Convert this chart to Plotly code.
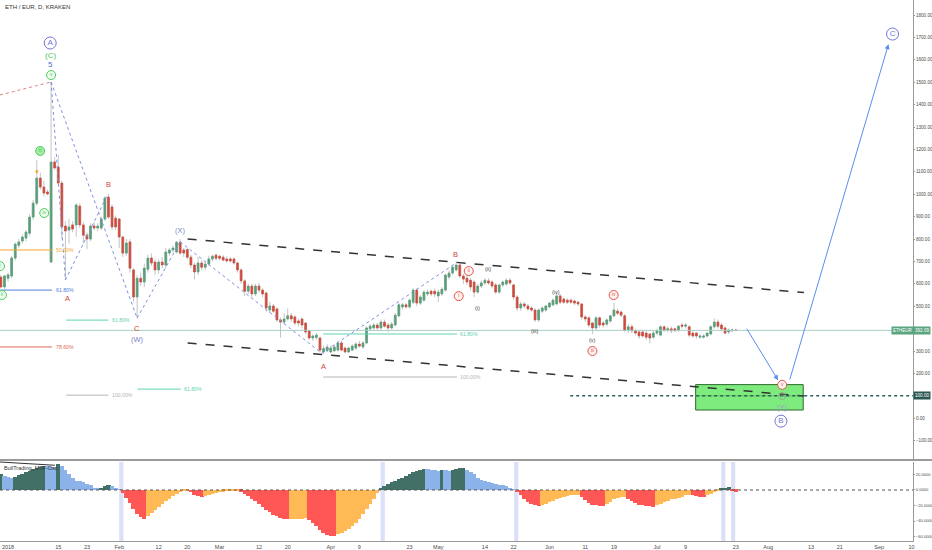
import plotly.graph_objects as go
import pandas as pd

FONT = "Arial, Liberation Sans, sans-serif"
AXFONT = "Liberation Sans Narrow, Arial Narrow, Liberation Sans, Arial, sans-serif"

# ---------------- data ----------------
dates = pd.date_range("2017-12-30", periods=206, freq="D")

opens = [630, 586, 625, 635, 715, 772, 791, 804, 826, 898, 960, 1072, 1032, 1010, 697, 1144, 1121, 1050, 858, 840,
         863, 863, 947, 863, 817, 800, 858, 849, 849, 889, 987, 943, 893, 889, 809, 737, 787, 662, 541, 625,
         608, 665, 715, 697, 662, 697, 684, 737, 751, 742, 786, 751, 753, 719, 684, 653, 693, 674, 688, 711,
         728, 723, 719, 711, 711, 711, 693, 662, 613, 567, 590, 555, 590, 572, 559, 483, 501, 488, 439, 429,
         443, 457, 452, 434, 443, 425, 390, 358, 360, 358, 296, 301, 296, 301, 304, 336, 313, 296, 304, 313,
         331, 318, 336, 399, 403, 416, 403, 429, 416, 403, 416, 457, 497, 506, 497, 518, 572, 514, 527, 555,
         567, 567, 546, 555, 572, 630, 648, 662, 684, 635, 625, 616, 608, 563, 590, 604, 613, 608, 595, 563,
         595, 599, 616, 595, 541, 492, 510, 501, 492, 483, 439, 478, 483, 497, 506, 510, 546, 532, 527, 527,
         523, 518, 510, 452, 448, 425, 403, 448, 425, 420, 434, 457, 478, 474, 457, 394, 408, 390, 385, 385,
         380, 376, 362, 380, 371, 408, 394, 399, 399, 394, 416, 411, 408, 380, 380, 362, 362, 367, 376, 408,
         429, 416, 403, 385, 390, 394]
highs = [640, 640, 650, 725, 785, 800, 820, 840, 910, 975, 1152, 1096, 1060, 1020, 1501, 1165, 1175, 1060, 880, 890,
         880, 960, 960, 875, 830, 870, 875, 870, 900, 990, 1003, 955, 905, 895, 815, 800, 800, 670, 640, 650,
         690, 730, 735, 710, 710, 720, 760, 760, 770, 790, 800, 760, 760, 730, 695, 720, 705, 700, 725, 730,
         735, 730, 728, 722, 720, 718, 700, 670, 620, 600, 600, 600, 605, 580, 565, 520, 510, 495, 450, 470,
         490, 470, 460, 445, 450, 430, 395, 375, 380, 365, 325, 330, 325, 330, 345, 345, 320, 320, 330, 340,
         345, 345, 410, 420, 425, 425, 440, 440, 425, 430, 470, 515, 515, 515, 535, 580, 580, 550, 570, 575,
         575, 580, 575, 585, 645, 660, 685, 700, 695, 645, 640, 625, 615, 600, 615, 625, 625, 615, 605, 600,
         615, 625, 625, 600, 550, 520, 520, 510, 500, 490, 490, 500, 505, 520, 535, 560, 555, 540, 535, 535,
         530, 525, 515, 460, 455, 430, 455, 455, 435, 445, 460, 515, 490, 480, 465, 420, 420, 400, 395, 395,
         390, 380, 390, 400, 415, 415, 410, 410, 405, 415, 425, 425, 415, 390, 385, 375, 375, 385, 415, 445,
         440, 425, 410, 400, 400, 398]
lows = [580, 575, 610, 625, 705, 760, 780, 790, 815, 885, 950, 1020, 990, 995, 697, 1110, 1040, 800, 617, 780,
        830, 810, 850, 780, 755, 790, 840, 835, 840, 880, 890, 840, 840, 760, 720, 725, 650, 520, 447, 590,
        585, 650, 680, 640, 645, 670, 670, 725, 740, 735, 730, 720, 710, 670, 620, 640, 660, 660, 680, 700,
        705, 705, 700, 695, 695, 685, 650, 600, 545, 555, 540, 545, 560, 540, 475, 470, 470, 430, 360, 420,
        435, 430, 415, 410, 400, 375, 350, 345, 350, 295, 288, 295, 290, 295, 298, 300, 290, 290, 300, 305,
        315, 310, 330, 390, 395, 395, 395, 405, 385, 395, 410, 450, 485, 490, 490, 510, 500, 505, 520, 545,
        545, 540, 520, 545, 565, 620, 640, 655, 625, 600, 595, 570, 540, 555, 580, 595, 595, 580, 555, 555,
        585, 590, 595, 530, 480, 480, 490, 480, 475, 430, 430, 470, 475, 490, 500, 505, 510, 510, 510, 510,
        505, 500, 440, 430, 405, 375, 395, 405, 405, 410, 425, 450, 460, 450, 385, 380, 380, 370, 355, 360,
        350, 335, 355, 370, 365, 385, 385, 380, 385, 385, 400, 400, 360, 360, 355, 355, 355, 360, 370, 400,
        400, 390, 375, 375, 385, 388]
closes = [586, 635, 640, 715, 777, 787, 809, 831, 898, 960, 1072, 1032, 1005, 1001, 1144, 1117, 1050, 854, 836, 854,
          845, 952, 863, 817, 800, 858, 849, 858, 889, 983, 898, 854, 854, 809, 737, 782, 670, 541, 625, 608,
          670, 715, 693, 662, 697, 684, 742, 751, 760, 786, 737, 737, 719, 684, 653, 693, 674, 688, 711, 723,
          714, 714, 706, 702, 702, 693, 662, 613, 567, 590, 555, 590, 572, 555, 492, 501, 478, 439, 429, 443,
          457, 443, 425, 425, 416, 385, 358, 367, 371, 304, 311, 318, 313, 318, 336, 304, 296, 313, 322, 331,
          322, 336, 403, 411, 416, 403, 429, 411, 403, 420, 460, 506, 506, 497, 527, 572, 514, 541, 563, 563,
          555, 555, 563, 576, 639, 648, 674, 684, 635, 621, 608, 586, 563, 590, 604, 616, 604, 590, 563, 595,
          608, 616, 604, 541, 492, 510, 501, 488, 483, 439, 483, 492, 501, 514, 527, 546, 518, 518, 518, 518,
          514, 510, 452, 443, 416, 403, 448, 416, 416, 439, 457, 483, 469, 460, 394, 408, 390, 380, 367, 367,
          362, 358, 380, 390, 408, 394, 399, 390, 390, 411, 411, 416, 371, 367, 367, 367, 367, 380, 408, 429,
          411, 399, 380, 394, 394, 392.09]

osc = [20, 18, 17, 16, 17, 19, 21, 23, 25, 27, 29, 30, 31, 30.5, 30, 29.5, 33, 31, 26, 20,
       15, 12, 11, 10, 8, 6, 3, 1.5, 3, 5, 6, 5.5, 3, 0.5, -4, -10, -17, -25, -31, -35,
       -37, -34, -30, -26, -22, -18, -14, -11, -8, -5, -3, -1.5, -0.5, -3, -6, -8, -8.5, -8, -7, -5,
       -4, -3, -2, -1.5, -1, -0.5, -0.3, -2, -5, -8, -11, -14, -18, -22, -26, -29, -32, -34, -36, -37.5,
       -38, -37.5, -37.3, -37, -36.8, -36.5, -39, -43, -47, -51, -55, -58, -59.5, -60, -57, -55, -53, -50, -46, -42,
       -37, -31, -25, -18, -11, -4, 2, 5, 8, 10, 12, 14, 16, 18, 21, 23, 25, 26, 27, 26.5,
       26, 25.5, 25, 26, 25.5, 25, 26, 27, 28, 28.5, 26, 23, 20, 16, 13, 11, 10, 9, 8, 7,
       6, 4.5, 2.5, 0.8, -3, -7, -11, -15, -18, -20, -20.5, -19.5, -18, -16, -14, -12, -10.5, -9, -8, -7,
       -6.5, -6, -9, -13, -17, -19, -20, -20.5, -21, -18, -15, -12, -10, -9, -8.5, -11, -14, -17, -19, -20,
       -20.5, -21, -21.5, -20, -18, -16, -14, -12, -11, -10, -9, -7, -6.5, -7, -8, -8.5, -8.6, -7, -5, -3,
       -1, 1.5, 3, 3.5, -1, -2]

# 100 and 400 are covered by the price boxes in the original
price_ticks = [-100, 0, 200, 300, 500, 600, 700, 800, 900, 1000, 1100, 1200, 1300, 1400, 1500, 1600, 1700, 1800]
osc_ticks = [20, 0, -20, -40, -60]
tick_dates = ["2018-01-01", "2018-01-15", "2018-01-23", "2018-02-01", "2018-02-12", "2018-02-20",
              "2018-03-01", "2018-03-12", "2018-03-20", "2018-04-01", "2018-04-09", "2018-04-23",
              "2018-05-01", "2018-05-14", "2018-05-22", "2018-06-01", "2018-06-11", "2018-06-19",
              "2018-07-01", "2018-07-09", "2018-07-23", "2018-08-01", "2018-08-13", "2018-08-21",
              "2018-09-01", "2018-09-10"]
tick_text = ["2018", "15", "23", "Feb", "12", "20", "Mar", "12", "20", "Apr", "9", "23", "May", "14",
             "22", "Jun", "11", "19", "Jul", "9", "23", "Aug", "13", "21", "Sep", "10"]

X0, X1 = "2017-12-29 18:00", "2018-09-10 10:00"
last_price = 392.09
target_level = 100

# wave legs (blue dotted)
wave_legs = [
    (("2018-01-13", 1501), ("2018-01-17", 617)),
    (("2018-01-17", 617), ("2018-01-28 12:00", 990)),
    (("2018-01-13", 1501), ("2018-02-06", 447)),
    (("2018-02-06", 447), ("2018-02-18", 787)),
    (("2018-02-18", 787), ("2018-03-29 12:00", 290)),
    (("2018-03-29 12:00", 290), ("2018-05-05 12:00", 688)),
]
red_leg = (("2017-12-29 18:00", 1443), ("2018-01-13", 1501))
channel_upper = (("2018-02-20 02:00", 800), ("2018-08-11", 561))
channel_lower = (("2018-02-20 02:00", 336), ("2018-08-11", 99))

# fib levels: (x0, x1, price, label, color)
fibs = [
    (X0, "2018-01-13 07:00", 751, "50.00%", "#f5a623"),
    (X0, "2018-01-13 07:00", 572, "61.80%", "#4a7fdb"),
    (X0, "2018-01-13 07:00", 318, "78.60%", "#e06c5a"),
    ("2018-01-17 05:00", "2018-01-29", 438, "61.80%", "#5fd4b0"),
    ("2018-01-17 05:00", "2018-01-29", 103, "100.00%", "#b5b5b5"),
    ("2018-02-06 02:00", "2018-02-18 05:00", 130, "61.80%", "#5fd4b0"),
    ("2018-03-29 22:00", "2018-05-06 05:00", 376, "61.80%", "#5fd4b0"),
    ("2018-03-29 22:00", "2018-05-06 05:00", 184, "100.00%", "#b5b5b5"),
]

# plain labels: (text, date, price, color, size)
plain_labels = [
    ("(C)", "2018-01-12 18:00", 1621, "#4cc85c", 8),
    ("5", "2018-01-12 18:00", 1577, "#4f73c9", 8),
    ("▼", "2018-01-09 02:00", 1099, "#f7a021", 6),
    ("A", "2018-01-17 12:00", 535, "#c9473c", 7.5),
    ("B", "2018-01-29", 1045, "#c9473c", 7.5),
    ("C", "2018-02-06 02:00", 402, "#c9473c", 7.5),
    ("(W)", "2018-02-06 02:00", 353, "#7c7fc8", 7.5),
    ("(X)", "2018-02-18 05:00", 836, "#7c7fc8", 7.5),
    ("A", "2018-03-29 22:00", 229, "#c9473c", 7.5),
    ("B", "2018-05-05 22:00", 729, "#c9473c", 7.5),
    ("(ii)", "2018-05-14 22:00", 666, "#444444", 5.5),
    ("(i)", "2018-05-12", 492, "#444444", 5.5),
    ("(iii)", "2018-05-27 17:00", 389, "#444444", 5.5),
    ("(iv)", "2018-06-02 22:00", 563, "#444444", 5.5),
    ("(v)", "2018-06-13", 349, "#444444", 5.5),
    ("(Y)", "2018-08-04 22:00", 50, "#9a9acb", 7.5),
]

# circled labels: (text, date, price, color, fill, marker size, text size)
circled = [
    ("A", "2018-01-12 18:00", 1675, "#7275d6", "white", 12, 8),
    ("v", "2018-01-13", 1532, "#4cd05c", "#eefcee", 9, 5.5),
    ("iii", "2018-01-09 23:00", 1193, "#4cd05c", "#a8eaa8", 9, 5),
    ("iv", "2018-01-11 02:00", 916, "#4cd05c", "#eefcee", 9, 5),
    ("i", "2017-12-29 18:00", 679, "#4cd05c", "#eefcee", 9, 5),
    ("ii", "2017-12-30 07:00", 550, "#4cd05c", "#eefcee", 9, 5),
    ("ii", "2018-05-09 12:00", 657, "#e8534a", "#fff3f2", 9, 5),
    ("i", "2018-05-06 17:00", 545, "#e8534a", "#fff3f2", 9, 5),
    ("iii", "2018-06-13", 300, "#e8534a", "#fff3f2", 9, 5),
    ("iv", "2018-06-18 22:00", 550, "#e8534a", "#fff3f2", 9, 5),
    ("v", "2018-08-04 22:00", 149, "#e8534a", "#fff3f2", 9, 5),
    ("c", "2018-08-04 22:00", 99, "#8fae8f", "rgba(0,0,0,0)", 7, 5),
    ("B", "2018-08-04 14:00", -13, "#7275d6", "white", 12, 8),
    ("C", "2018-09-04 17:00", 1715, "#7275d6", "white", 12, 8),
]

box_x = ("2018-07-11 19:00", "2018-08-10 19:00")
box_y = (36.6, 150)
dotted_start = "2018-06-06 19:00"
arrows = [
    (("2018-07-25 19:00", 406), ("2018-08-03 19:00", 170)),
    (("2018-08-06 22:00", 166), ("2018-09-03 14:00", 1670)),
]
osc_bands = ["2018-02-01 14:00", "2018-04-15 12:00", "2018-05-22 18:00", "2018-07-19 12:00", "2018-07-22 06:00"]

# ---------------- figure ----------------
UP, DN, WICK = "#55a079", "#d24a3c", "#c4c4c4"
DARK, BLUE, RED, ORANGE = "#426f66", "#8cb2ea", "#ff5656", "#ffb955"

fig = go.Figure()

# oscillator background bands
shapes = []
for c in osc_bands:
    t = pd.Timestamp(c)
    shapes.append(dict(type="rect", xref="x", yref="y2 domain", x0=t - pd.Timedelta(hours=14),
                       x1=t + pd.Timedelta(hours=14), y0=0, y1=1, fillcolor="#dcdff8",
                       line=dict(width=0), layer="below"))

# wicks
fig.add_trace(go.Candlestick(
    x=dates, open=opens, high=highs, low=lows, close=closes, xaxis="x", yaxis="y",
    increasing=dict(line=dict(color=WICK, width=1), fillcolor=WICK),
    decreasing=dict(line=dict(color=WICK, width=1), fillcolor=WICK),
    whiskerwidth=0, hoverinfo="skip", showlegend=False))
# bodies
body_hi = [max(o, c) for o, c in zip(opens, closes)]
body_lo = [min(o, c) for o, c in zip(opens, closes)]
fig.add_trace(go.Candlestick(
    x=dates, open=opens, high=body_hi, low=body_lo, close=closes, xaxis="x", yaxis="y",
    increasing=dict(line=dict(color=UP, width=0.6), fillcolor=UP),
    decreasing=dict(line=dict(color=DN, width=0.6), fillcolor=DN),
    whiskerwidth=0, hoverinfo="skip", showlegend=False))

# oscillator
osc_colors = []
prev = osc[0]
for v in osc:
    if v >= 0:
        osc_colors.append(DARK if v >= prev else BLUE)
    else:
        osc_colors.append(RED if v < prev else ORANGE)
    prev = v
fig.add_trace(go.Bar(x=dates, y=osc, xaxis="x", yaxis="y2", width=86400000 * 1.15,
                     marker=dict(color=osc_colors, line=dict(width=0)), hoverinfo="skip",
                     showlegend=False))


def seg(p0, p1, color, dash, width=1):
    fig.add_trace(go.Scatter(x=[p0[0], p1[0]], y=[p0[1], p1[1]], mode="lines", xaxis="x", yaxis="y",
                             line=dict(color=color, dash=dash, width=width), hoverinfo="skip",
                             showlegend=False))


# current price line
seg((X0, last_price), (X1, last_price), "#a9cfc6", "solid", 1)
# fib lines
for x0, x1, p, lab, col in fibs:
    seg((x0, p), (x1, p), col, "solid", 1)
# wave legs
for a, b in wave_legs:
    seg(a, b, "#7d8fe3", "dot", 1)
seg(red_leg[0], red_leg[1], "#e57f7f", "dot", 1)
# channel
seg(channel_upper[0], channel_upper[1], "#333333", "dash", 1.5)

# target box
shapes.append(dict(type="rect", xref="x", yref="y", x0=box_x[0], x1=box_x[1], y0=box_y[0], y1=box_y[1],
                   fillcolor="#7deb7d", line=dict(color="#2f6a2f", width=1), layer="below"))
seg((box_x[0], 100), (box_x[1], 100), "#5fc45f", "solid", 1)
seg(channel_lower[0], channel_lower[1], "#333333", "dash", 1.5)
# dotted level
seg((dotted_start, target_level), (X1, target_level), "#2f5e5a", "dot", 1.5)

# pane separator / misc shapes
shapes.append(dict(type="line", xref="paper", yref="paper", x0=0, x1=1.0208, y0=0.1497, y1=0.1497,
                   line=dict(color="#9a9a9a", width=2)))
shapes.append(dict(type="line", xref="x", yref="y2", x0=X0, x1=X1, y0=0, y1=0,
                   line=dict(color="#555555", width=1, dash="dot")))

annotations = []
# fib labels
for x0, x1, p, lab, col in fibs:
    annotations.append(dict(x=pd.Timestamp(x1) + pd.Timedelta(hours=10), y=p, xref="x", yref="y", text=lab,
                            showarrow=False, xanchor="left", yanchor="middle",
                            font=dict(size=5.2, color=col, family=FONT)))
# plain labels
for t, d, p, col, sz in plain_labels:
    annotations.append(dict(x=d, y=p, xref="x", yref="y", text=t, showarrow=False,
                            font=dict(size=sz, color=col, family=FONT)))
# arrows
for a, b in arrows:
    annotations.append(dict(x=b[0], y=b[1], ax=a[0], ay=a[1], xref="x", yref="y", axref="x", ayref="y",
                            showarrow=True, arrowhead=2, arrowsize=1, arrowwidth=1, arrowcolor="#5b8def",
                            text=""))
# circled labels
for t, d, p, col, fill, ms, ts in circled:
    fig.add_trace(go.Scatter(x=[d], y=[p], mode="markers+text", text=[t], textposition="middle center",
                             xaxis="x", yaxis="y",
                             marker=dict(symbol="circle", size=ms, color=fill, line=dict(color=col, width=1)),
                             textfont=dict(size=ts, color=col, family=FONT), hoverinfo="skip",
                             showlegend=False))

# title and oscillator name
annotations.append(dict(x=0.003, y=0.987, xref="paper", yref="paper", text="ETH / EUR, D, KRAKEN",
                        showarrow=False, xanchor="left", yanchor="middle",
                        font=dict(size=6, color="#333333", family=FONT)))
annotations.append(dict(x=0.002, y=0.135, xref="paper", yref="paper", text="BullTrading_MTF-Osc",
                        showarrow=False, xanchor="left", yanchor="middle",
                        font=dict(size=5.5, color="#333333", family=FONT)))
shapes.append(dict(type="line", xref="paper", yref="paper", x0=0, x1=0.06, y0=0.146, y1=0.140,
                   line=dict(color="#333333", width=1)))

# price labels on axis
annotations.append(dict(x=0.9895, y=last_price, xref="paper", yref="y", text="ETHEUR", showarrow=False,
                        xanchor="center", yanchor="middle", bgcolor="#5aa57f", borderpad=1,
                        font=dict(size=4.6, color="white", family=AXFONT)))
annotations.append(dict(x=1.0095, y=last_price, xref="paper", yref="y", text="392.09", showarrow=False,
                        xanchor="center", yanchor="middle", bgcolor="#5aa57f", borderpad=1,
                        font=dict(size=4.6, color="white", family=AXFONT)))
annotations.append(dict(x=1.0095, y=target_level, xref="paper", yref="y", text="100.00", showarrow=False,
                        xanchor="center", yanchor="middle", bgcolor="#2b5753", borderpad=1,
                        font=dict(size=4.6, color="white", family=AXFONT)))

axis_font = dict(size=4.6, color="#4a4a4a", family=AXFONT)
osc_font = dict(size=4.1, color="#4a4a4a", family=AXFONT)
xaxis_font = dict(size=5.5, color="#4a4a4a", family=FONT)
fig.update_layout(
    template="none",
    width=932, height=550,
    margin=dict(l=0, r=19, t=0, b=9),
    paper_bgcolor="white", plot_bgcolor="white",
    showlegend=False, bargap=0,
    shapes=shapes, annotations=annotations,
    xaxis=dict(type="date", range=[X0, X1], anchor="y2", domain=[0, 1], showgrid=False, zeroline=False,
               tickvals=tick_dates, ticktext=tick_text, ticks="", ticklen=0,
               showline=True, linecolor="#999999", linewidth=1, tickfont=xaxis_font,
               rangeslider=dict(visible=False), automargin=False, fixedrange=True),
    yaxis=dict(domain=[0.1516, 1], range=[-182, 1867], side="right", anchor="x", tickvals=price_ticks,
               tickformat=".2f", showgrid=False, zeroline=False, ticks="outside", ticklen=1,
               tickcolor="#999999", showline=True, linecolor="#999999", linewidth=1, tickfont=axis_font,
               automargin=False),
    yaxis2=dict(domain=[0, 0.146], range=[-65.8, 36.1], side="right", anchor="x", tickvals=osc_ticks,
                tickformat=".4f", showgrid=False, zeroline=False, ticks="outside", ticklen=1,
                tickcolor="#999999", showline=True, linecolor="#999999", linewidth=1, tickfont=osc_font,
                automargin=False),
)

fig.write_html("out.html", config={"displayModeBar": False},
               post_script="document.body.style.margin='0';document.body.style.overflow='hidden';")
